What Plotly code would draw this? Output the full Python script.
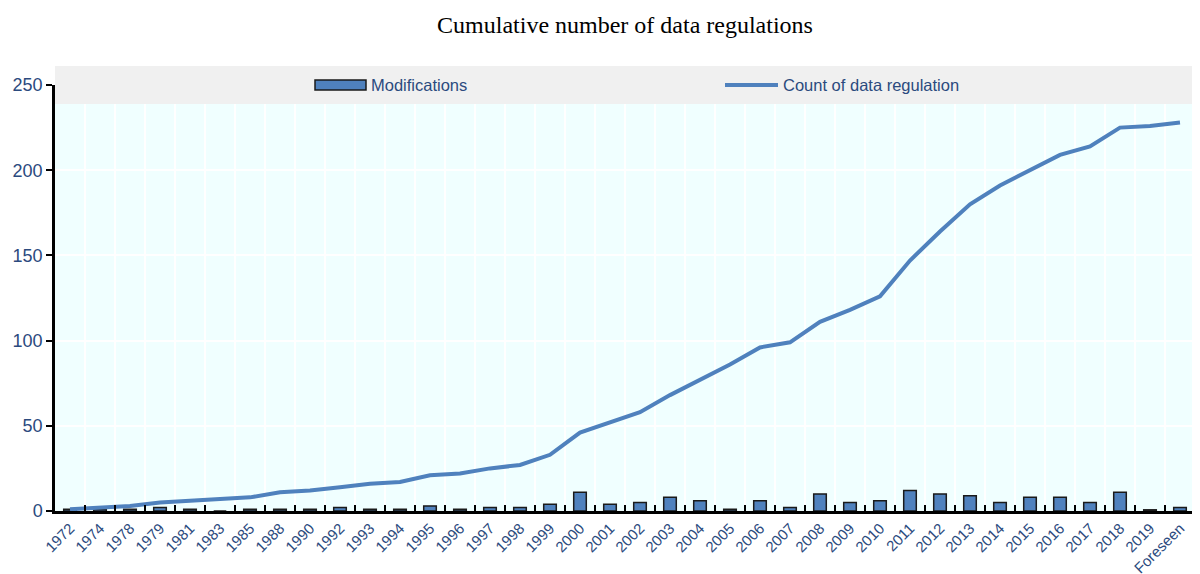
import plotly.graph_objects as go

categories = ["1972", "1974", "1978", "1979", "1981", "1983", "1985", "1988", "1990", "1992",
              "1993", "1994", "1995", "1996", "1997", "1998", "1999", "2000", "2001", "2002",
              "2003", "2004", "2005", "2006", "2007", "2008", "2009", "2010", "2011", "2012",
              "2013", "2014", "2015", "2016", "2017", "2018", "2019", "Foreseen"]
modifications = [1, 1, 1, 2, 1, 0, 1, 1, 1, 2,
                 1, 1, 3, 1, 2, 2, 4, 11, 4, 5,
                 8, 6, 1, 6, 2, 10, 5, 6, 12, 10,
                 9, 5, 8, 8, 5, 11, 0.7, 2]
count_regulation = [1, 2, 3, 5, 6, 7, 8, 11, 12, 14,
                    16, 17, 21, 22, 25, 27, 33, 46, 52, 58,
                    68, 77, 86, 96, 99, 111, 118, 126, 147, 164,
                    180, 191, 200, 209, 214, 225, 226, 228]
y_ticks = [0, 50, 100, 150, 200, 250]

BLUE = "#4f81bd"
TXT = "#2b4a7e"
NARROW = "Liberation Sans Narrow, Arial Narrow, Liberation Sans, Arial"

fig = go.Figure()
fig.add_trace(go.Bar(x=categories, y=modifications, name="Modifications",
                     marker=dict(color=BLUE, line=dict(color="#1a1a1a", width=1.5)),
                     width=0.42, showlegend=False))
fig.add_trace(go.Scatter(x=categories, y=count_regulation, name="Count of data regulation",
                         mode="lines", line=dict(color=BLUE, width=4), showlegend=False))

OFF = 8  # page body margin
W, H = 1200 - OFF, 574
PL, PT, PW, PH = 55, 85, 1140, 426  # plot area in page pixels

def px_x(px):
    return (px - PL) / PW

def px_y(py):
    return (PT + PH - py) / PH

shapes = [
    dict(type="rect", xref="paper", yref="paper", x0=px_x(55), x1=px_x(1200),
         y0=px_y(104), y1=px_y(66), fillcolor="#f0f0f0", line=dict(width=0), layer="above"),
    dict(type="rect", xref="paper", yref="paper", x0=px_x(315), x1=px_x(366),
         y0=px_y(90), y1=px_y(80), fillcolor=BLUE, line=dict(color="#1a1a1a", width=1.5), layer="above"),
    dict(type="line", xref="paper", yref="paper", x0=px_x(725), x1=px_x(778),
         y0=px_y(85), y1=px_y(85), line=dict(color=BLUE, width=4), layer="above"),
]
annotations = [
    dict(text="Modifications", xref="paper", yref="paper", x=px_x(369), y=px_y(85),
         xanchor="left", yanchor="middle", showarrow=False, font=dict(family=NARROW, size=16.5, color=TXT)),
    dict(text="Count of data regulation", xref="paper", yref="paper", x=px_x(781), y=px_y(85),
         xanchor="left", yanchor="middle", showarrow=False, font=dict(family=NARROW, size=16.5, color=TXT)),
]

fig.update_layout(
    width=W, height=H,
    margin=dict(l=PL - OFF, r=W - (PL - OFF) - PW, t=PT - OFF, b=H - (PT - OFF) - PH, autoexpand=False),
    paper_bgcolor="white", plot_bgcolor="#f0ffff",
    title=dict(text="Cumulative number of data regulations", x=0.5, xref="paper",
               yref="container", y=1 - (25 - OFF) / H,
               xanchor="center", yanchor="middle",
               font=dict(family="Liberation Serif, Times New Roman, serif", size=24, color="black")),
    bargap=0.2,
    shapes=shapes, annotations=annotations,
    xaxis=dict(type="category", tickson="boundaries", ticks="inside", ticklen=6, tickwidth=2,
               tickcolor="black", showgrid=True, gridcolor="white", gridwidth=2, automargin=False,
               showline=True, linecolor="black", linewidth=2.5, tickangle=-45,
               tickfont=dict(family=NARROW, size=15, color=TXT), range=[-0.5, len(categories) - 0.5]),
    yaxis=dict(range=[0, 250], tickvals=y_ticks, ticks="outside", ticklen=6, tickwidth=2,
               tickcolor="black", showgrid=True, gridcolor="white", gridwidth=2, automargin=False,
               showline=True, linecolor="black", linewidth=2.5, zeroline=False,
               tickfont=dict(family=NARROW, size=18, color=TXT)),
)

fig.write_html("out.html")
